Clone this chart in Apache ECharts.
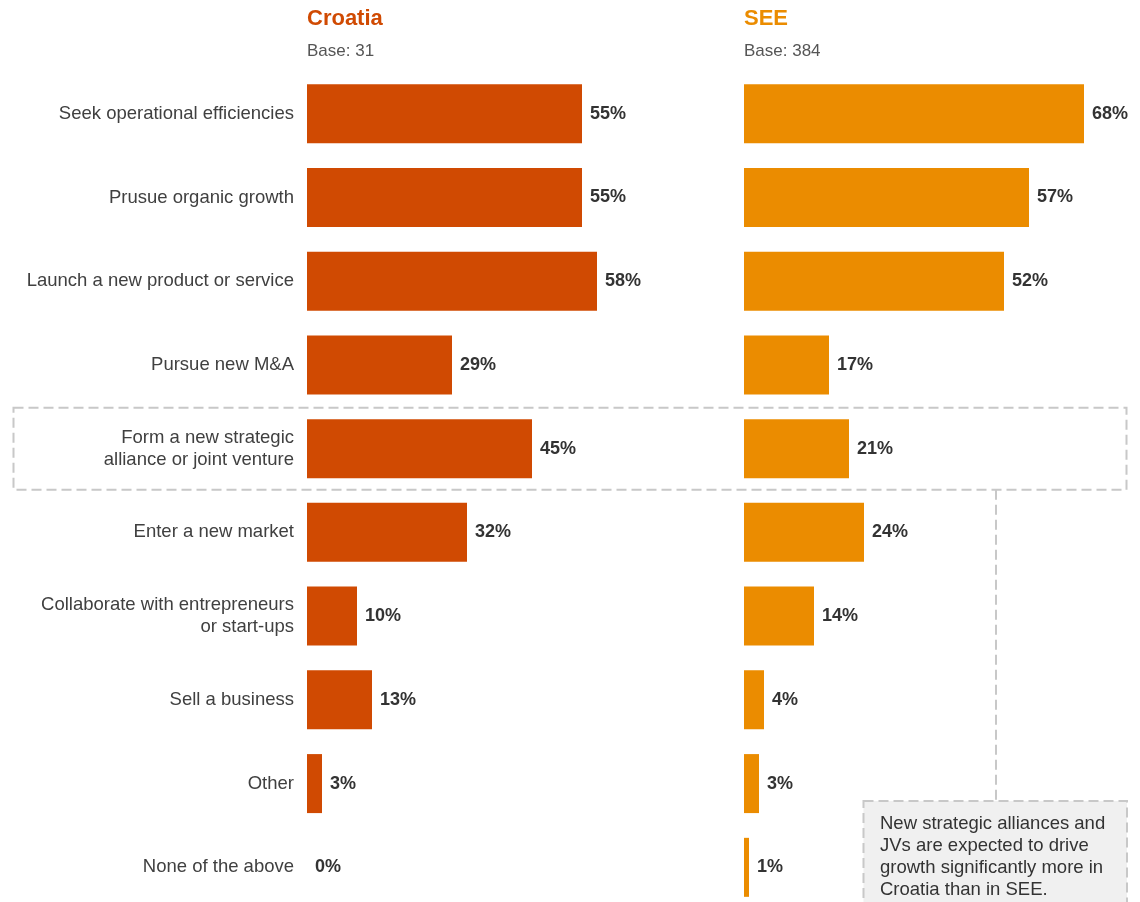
<!DOCTYPE html>
<html>
<head>
<meta charset="utf-8">
<script src="https://cdn.jsdelivr.net/npm/echarts@6/dist/echarts.min.js"></script>
<style>
  html, body { margin: 0; padding: 0; background: #ffffff; overflow: hidden; }
  /* the last row runs past the bottom edge of the window */
  #chart { width: 1140px; height: 920px; }
</style>
</head>
<body>
<div id="chart"></div>
<script>
// Growth activities planned over the next 12 months
const categories = [
  'Seek operational efficiencies',
  'Prusue organic growth',
  'Launch a new product or service',
  'Pursue new M&A',
  'Form a new strategic\nalliance or joint venture',
  'Enter a new market',
  'Collaborate with entrepreneurs\nor start-ups',
  'Sell a business',
  'Other',
  'None of the above'
];
const croatiaValues = [55, 55, 58, 29, 45, 32, 10, 13, 3, 0];
const seeValues = [68, 57, 52, 17, 21, 24, 14, 4, 3, 1];

const panelTitles = ['Croatia', 'SEE'];
const panelBases = ['Base: 31', 'Base: 384'];
const highlightIndex = 4;
const noteText = 'New strategic alliances and\nJVs are expected to drive\ngrowth significantly more in\nCroatia than in SEE.';

const FONT = '"Liberation Sans", Arial, sans-serif';
const C_CRO = '#D04A02';
const C_SEE = '#EB8C00';
const DASH = '#c8c8c8';

const chart = echarts.init(document.getElementById('chart'), null, { renderer: 'canvas' });

const gridTop = 71.8;
const gridHeight = 837.4;

function valueLabel() {
  return {
    show: true,
    position: 'right',
    distance: 8,
    formatter: p => p.value + '%',
    fontFamily: FONT,
    fontSize: 18,
    fontWeight: 'bold',
    color: '#333333'
  };
}

function catAxis(gridIndex, showLabels) {
  return {
    type: 'category',
    gridIndex,
    data: categories,
    inverse: true,
    axisLine: { show: false },
    axisTick: { show: false },
    splitLine: { show: false },
    axisLabel: {
      show: showLabels,
      margin: 13,
      fontFamily: FONT,
      fontSize: 18.5,
      lineHeight: 22,
      color: '#404040',
      align: 'right'
    }
  };
}

function valAxis(gridIndex) {
  return {
    type: 'value',
    gridIndex,
    min: 0,
    max: 70,
    show: false
  };
}

chart.setOption({
  animation: false,
  backgroundColor: '#ffffff',
  grid: [
    { left: 307, top: gridTop, width: 350, height: gridHeight, containLabel: false },
    { left: 744, top: gridTop, width: 350, height: gridHeight, containLabel: false }
  ],
  xAxis: [valAxis(0), valAxis(1)],
  yAxis: [catAxis(0, true), catAxis(1, false)],
  series: [
    {
      name: panelTitles[0],
      type: 'bar',
      xAxisIndex: 0,
      yAxisIndex: 0,
      data: croatiaValues,
      barWidth: 59,
      itemStyle: { color: C_CRO },
      label: valueLabel()
    },
    {
      name: panelTitles[1],
      type: 'bar',
      xAxisIndex: 1,
      yAxisIndex: 1,
      data: seeValues,
      barWidth: 59,
      itemStyle: { color: C_SEE },
      label: valueLabel()
    }
  ]
});

// Panel headings, highlight frame and the callout note
const rowY = chart.convertToPixel({ yAxisIndex: 0 }, highlightIndex);
const leftX0 = chart.convertToPixel({ xAxisIndex: 0 }, 0);
const rightX0 = chart.convertToPixel({ xAxisIndex: 1 }, 0);
const frameTop = rowY - 41;
const frameBottom = rowY + 41;
const noteTop = 801;
const linkX = 996;

chart.setOption({
  graphic: [
    {
      type: 'text', left: leftX0, top: 8,
      style: { text: panelTitles[0], fontFamily: FONT, fontSize: 22, fontWeight: 'bold', fill: C_CRO }
    },
    {
      type: 'text', left: rightX0, top: 8,
      style: { text: panelTitles[1], fontFamily: FONT, fontSize: 22, fontWeight: 'bold', fill: C_SEE }
    },
    {
      type: 'text', left: leftX0, top: 43,
      style: { text: panelBases[0], fontFamily: FONT, fontSize: 17, fill: '#555555' }
    },
    {
      type: 'text', left: rightX0, top: 43,
      style: { text: panelBases[1], fontFamily: FONT, fontSize: 17, fill: '#555555' }
    },
    {
      type: 'rect', silent: true, z: 0,
      shape: { x: 13.5, y: frameTop, width: 1113, height: frameBottom - frameTop },
      style: { fill: 'none', stroke: DASH, lineWidth: 2, lineDash: [10, 5] }
    },
    {
      type: 'line', silent: true, z: 0,
      shape: { x1: linkX, y1: frameBottom, x2: linkX, y2: noteTop },
      style: { stroke: DASH, lineWidth: 2, lineDash: [10, 5] }
    },
    {
      type: 'rect', silent: true, z: 1,
      shape: { x: 863.5, y: noteTop, width: 263.5, height: 130 },
      style: { fill: '#f0f0f0', stroke: DASH, lineWidth: 2, lineDash: [10, 5] }
    },
    {
      type: 'text', z: 2, left: 880, top: noteTop + 12,
      style: { text: noteText, fontFamily: FONT, fontSize: 18.5, lineHeight: 22, fill: '#333333' }
    }
  ]
});
</script>
</body>
</html>
